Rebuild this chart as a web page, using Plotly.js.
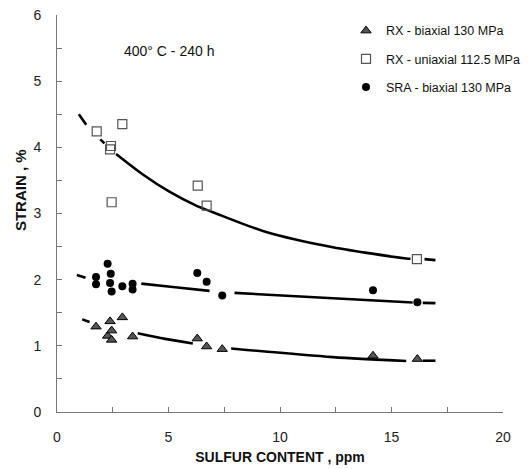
<!DOCTYPE html>
<html>
<head>
<meta charset="utf-8">
<script src="https://cdn.plot.ly/plotly-3.0.1.min.js"></script>
<style>html,body{margin:0;padding:0;background:#fff}#chart{width:529px;height:469px}</style>
</head>
<body>
<div id="chart"></div>
<script>
// Measured data
var rxBiaxX = [1.75, 2.27, 2.38, 2.45, 2.45, 2.93, 3.39, 6.29, 6.71, 7.41, 14.17, 16.16];
var rxBiaxY = [1.29, 1.15, 1.37, 1.23, 1.09, 1.43, 1.14, 1.11, 0.99, 0.95, 0.85, 0.80];

var rxUniX = [1.78, 2.42, 2.38, 2.93, 2.45, 6.31, 6.71, 16.14];
var rxUniY = [4.24, 4.02, 3.97, 4.35, 3.17, 3.42, 3.12, 2.31];

var sraX = [1.75, 1.75, 2.27, 2.41, 2.38, 2.45, 2.93, 3.39, 3.39, 6.29, 6.71, 7.41, 14.17, 16.16];
var sraY = [2.04, 1.93, 2.24, 2.09, 1.95, 1.82, 1.90, 1.94, 1.85, 2.10, 1.97, 1.76, 1.84, 1.66];

// Fitted curves
var uniFitSegX = [[0.98, 1.31], [1.94, 2.13], [2.65, 3.85, 5.04, 6.24, 6.99, 9.38, 12.37, 15.66, 15.85], [16.48, 16.97]];
var uniFitSegY = [[4.50, 4.34], [4.12, 4.06], [3.90, 3.59, 3.33, 3.12, 3.02, 2.72, 2.49, 2.32, 2.315], [2.31, 2.295]];

var sraFitSegX = [[0.89, 1.28], [3.78, 5.30, 6.84], [7.96, 12.37, 15.95], [16.40, 16.97]];
var sraFitSegY = [[2.07, 2.03], [1.94, 1.885, 1.83], [1.80, 1.72, 1.655], [1.65, 1.645]];

var biaxFitSegX = [[1.13, 1.46], [3.62, 4.85, 6.09], [7.81, 12.37, 15.66], [16.40, 16.97]];
var biaxFitSegY = [[1.40, 1.36], [1.19, 1.105, 1.035], [0.96, 0.83, 0.77], [0.775, 0.775]];

var legendNames = ['RX - biaxial 130 MPa', 'RX - uniaxial 112.5 MPa', 'SRA - biaxial 130 MPa'];
var annotText = '400° C - 240 h';
var xTitle = 'SULFUR CONTENT , ppm';
var yTitle = 'STRAIN , %';

var FONT = '"Liberation Sans", Arial, Helvetica, sans-serif';
var traces = [];
function addSegs(sx, sy) {
  for (var i = 0; i < sx.length; i++) {
    traces.push({x: sx[i], y: sy[i], mode: 'lines', type: 'scatter', showlegend: false, hoverinfo: 'skip',
      line: {color: '#000', width: 2.6, shape: 'spline', smoothing: 0.8}});
  }
}
addSegs(uniFitSegX, uniFitSegY);
addSegs(sraFitSegX, sraFitSegY);
addSegs(biaxFitSegX, biaxFitSegY);

traces.push({x: rxBiaxX, y: rxBiaxY, name: legendNames[0], legendgroup: 'a', mode: 'markers', type: 'scatter',
  marker: {symbol: 'triangle-up', size: 9, color: '#555', line: {color: '#000', width: 1}}});
traces.push({x: rxUniX, y: rxUniY, name: legendNames[1], legendgroup: 'b', mode: 'markers', type: 'scatter',
  marker: {symbol: 'square-open', size: 9, color: '#555', line: {width: 1.2}}});
traces.push({x: sraX, y: sraY, name: legendNames[2], legendgroup: 'c', mode: 'markers', type: 'scatter',
  marker: {symbol: 'circle', size: 8, color: '#000'}});

var axisCommon = {showgrid: false, zeroline: false, showline: true, linecolor: '#777', linewidth: 1,
  ticks: 'inside', ticklen: 5, tickcolor: '#777', tickwidth: 1,
  tickfont: {family: FONT, size: 14, color: '#222'}};

var layout = {
  width: 529, height: 469,
  margin: {l: 57, r: 26, t: 15, b: 57, autoexpand: false},
  paper_bgcolor: '#fff', plot_bgcolor: '#fff',
  font: {family: FONT, color: '#222'},
  xaxis: Object.assign({}, axisCommon, {range: [0, 20], dtick: 5, tick0: 0, ticklabelstandoff: 12,
    minor: {dtick: 2.5, ticks: 'inside', ticklen: 5, tickcolor: '#777'},
    title: {text: '<b>' + xTitle + '</b>', font: {family: FONT, size: 14, color: '#111'}, standoff: 8}}),
  yaxis: Object.assign({}, axisCommon, {range: [0, 6], dtick: 1, tick0: 0, ticklabelstandoff: 12,
    minor: {dtick: 0.5, ticks: 'inside', ticklen: 5, tickcolor: '#777'}}),
  showlegend: true,
  legend: {x: 0.648, y: 0.9975, xanchor: 'left', yanchor: 'top', bgcolor: 'rgba(0,0,0,0)',
    font: {family: FONT, size: 12.5, color: '#111'}, tracegroupgap: 9, itemwidth: 30},
  annotations: [
    {text: annotText, xref: 'paper', yref: 'paper', x: 0.252, y: 0.909, xanchor: 'center', yanchor: 'middle',
      showarrow: false, font: {family: FONT, size: 14, color: '#111'}},
    {text: '<b>' + yTitle + '</b>', xref: 'paper', yref: 'paper', x: -0.083, y: 0.559, xanchor: 'center',
      yanchor: 'middle', showarrow: false, textangle: -90, font: {family: FONT, size: 15, color: '#111'}}
  ]
};

Plotly.newPlot('chart', traces, layout, {displayModeBar: false, staticPlot: true});
</script>
</body>
</html>
